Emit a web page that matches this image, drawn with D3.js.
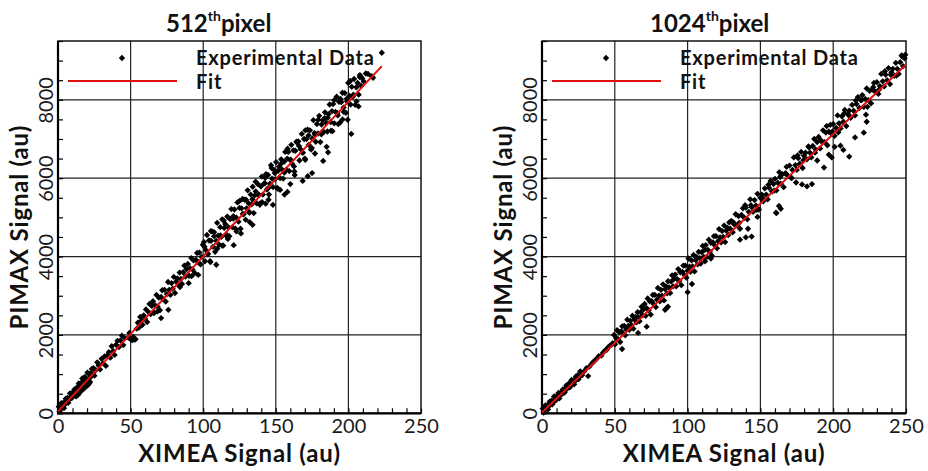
<!DOCTYPE html>
<html><head><meta charset="utf-8">
<script src="https://cdn.jsdelivr.net/npm/d3@7"></script>
<style>
body{margin:0;background:#fff;}
svg{display:block;}
.tick text{font-family:Lato,"Open Sans",sans-serif;}
</style></head>
<body><svg id="chart" width="928" height="471"></svg>
<script>
// ---------- data ----------
const xTickLabels = [0, 50, 100, 150, 200, 250];
const yTickLabels = [0, 2000, 4000, 6000, 8000];
const panelTitles = ["512", "1024"];
const legendLabels = ["Experimental Data", "Fit"];

// XIMEA signal (x) vs PIMAX signal (y), 512th pixel
const pixel512 = [
[0.5,170],[1.1,50],[1.7,140],[2.3,260],[2.9,150],[3.5,260],[4.1,130],[4.7,290],[5.3,370],[5.9,280],[6.5,390],[7.1,270],[7.7,370],[8.3,510],[8.9,430],[9.5,390],[10.1,530],[10.7,480],[11.3,610],[11.9,450],
[12.5,610],[13.1,660],[13.7,550],[14.3,760],[14.9,670],[15.5,590],[16.1,780],[16.7,890],[17.3,720],[17.9,840],[18.5,930],[19.1,740],[19.7,860],[20.3,1040],[20.9,850],[21.5,1000],[22.1,800],[22.7,1020],[23.3,1130],[23.9,990],[24.5,1150],[25.1,960],
[1.5,90],[2.6,150],[3.8,210],[4.9,230],[6.0,300],[7.3,350],[8.6,380],[9.9,450],[11.0,470],[12.2,540],[13.4,560],[14.6,620],[15.8,660],[17.0,700],[18.2,780],[19.4,800],[20.6,850],[21.8,900],[23.0,960],[24.2,1000],
[12.5,430],[14.8,520],[16.5,590],[18.3,650],[20.5,720],[21.5,760],[13.8,470],[17.2,610],[19.6,690],
[26.0,1100],[27.0,1300],[28.0,1220],[29.0,1120],[30.0,1390],[31.0,1280],[32.0,1450],[33.0,1210],[34.0,1480],[35.0,1560],[36.0,1420],[37.0,1710],[38.0,1590],[39.0,1490],[40.0,1750],[41.0,1850],[42.0,1690],[43.0,1860],[44.0,1980],[45.0,1740],[46.0,1920],
[48.5,1930],[49.2,2050],[49.8,1900],[50.5,1880],[51.2,1870],[51.9,1950],[52.6,1880],[53.4,1890],[54.2,2160],[55.0,2310],[55.8,2190],[56.6,2460],[57.4,2360],[58.2,2260],[59.0,2500],[59.8,2420],[60.6,2650],[61.4,2330],[62.2,2590],[63.0,2790],[63.8,2530],[64.6,2740],
[65.4,2860],[66.2,2560],[67.0,2750],[67.8,3020],[68.6,2720],[69.4,2950],[70.2,2630],[71.0,2970],[71.8,3140],[72.6,2900],[73.4,3150],[74.2,2850],[75.0,3040],[75.8,3350],[76.6,3150],[77.4,3020],[78.2,3320],[79.0,3180],[79.8,3480],[80.6,3070],[81.4,3360],[82.2,3440],[83.0,3270],[83.8,3590],[84.6,3430],[85.4,3300],[86.2,3600],[87.0,3770],[87.8,3490],[88.6,3680],[89.4,3810],[90.2,3510],[91.0,3700],[91.8,3960],[92.6,3670],[93.4,3900],[94.2,3580],[95.0,3920],[95.8,4090],[96.6,3850],[97.4,4100],[98.2,3800],[99.0,3990],[99.8,4300],
[66,2570],[68.5,2600],[71,2430],[76,2640],[84,3220],[90,3320],[96.6,3530],[92,3500],
[100.5,4370],[101.2,3880],[101.9,4160],[102.6,4550],[103.3,4060],[104.0,4410],[104.7,3880],[105.4,4400],[106.1,4640],[106.8,4250],[107.5,4620],[108.2,4120],[108.9,4400],[109.6,4860],[110.3,4530],[111.0,4300],[111.7,4750],[112.4,4500],[113.1,4950],[113.8,4280],[114.5,4730],[115.2,4830],[115.9,4530],[116.6,5020],[117.3,4750],[118.0,4520],[118.7,4960],[119.4,5210],[120.1,4750],[120.8,5030],[121.5,5200],[122.2,4710],[122.9,4990],[123.6,5380],[124.3,4890],[125.0,5240],[125.7,4710],[126.4,5230],[127.1,5470],[127.8,5080],[128.5,5450],[129.2,4940],[129.9,5230],[130.6,5690],[131.3,5360],[132.0,5130],[132.7,5580],[133.4,5330],[134.1,5780],[134.8,5110],[135.5,5560],[136.2,5660],[136.9,5360],[137.6,5850],[138.3,5580],[139.0,5350],[139.7,5790],[140.4,6040],[141.1,5580],[141.8,5860],
[142.5,5870],[143.2,6100],[143.9,5710],[144.6,6080],[145.3,5580],[146.0,5860],[146.7,6330],[147.4,5990],[148.1,5770],[148.8,6210],[149.5,5970],[150.2,6410],[150.9,5750],[151.6,6190],[152.3,6300],[153.0,6000],[153.7,6480],[154.4,6220],[155.1,5990],[155.8,6420],[156.5,6670],[157.2,6220],[157.9,6500],[158.6,6670],[159.3,6180],[160.0,6460],[160.7,6850],[161.4,6360],[162.1,6710],[162.8,6170],[163.5,6700],[164.2,6930],
[100.9,4250],[103.1,4080],[105.3,4650],[107.5,4520],[109.7,4200],[111.9,4540],[114.1,4920],[116.3,4550],[118.5,4960],[120.7,4970],[122.9,4640],[125.1,5420],[127.3,5090],[129.5,5450],[131.7,5120],[133.9,5460],[136.1,5910],[138.3,5560],[140.5,5390],[142.7,6010],[144.9,5750],[147.1,6260],[149.3,6130],[151.5,5730],[153.7,6370],[155.9,6140],[158.1,6750],[160.3,6470],[162.5,6300],[164.7,6910],
[165.5,6940],[166.3,6450],[167.1,6740],[167.9,7130],[168.7,6650],[169.5,7000],[170.3,6470],[171.1,7000],[171.9,7240],[172.7,6850],[173.5,7220],[174.3,6730],[175.1,7010],[175.9,7480],[176.7,7150],[177.5,6930],[178.3,7380],[179.1,7140],[179.9,7590],[180.7,6920],[181.5,7370],[182.3,7480],[183.1,7180],[183.9,7680],[184.7,7410],[185.5,7190],[186.3,7630],[187.1,7880],[187.9,7430],[188.7,7710],[189.5,7890],[190.3,7400],[191.1,7690],[191.9,8080],[192.7,7600],[193.5,7950],[194.3,7420],[195.1,7940],[195.9,8180],[196.7,7800],[197.5,8170],[198.3,7670],[199.1,7960],[199.9,8430],[200.7,8100],[201.5,7880],[202.3,8330],[203.1,8080],[203.9,8530],[204.7,7870],[205.5,8320],[206.3,8430],[207.1,8130],[207.9,8630],[208.7,8360],[209.5,8550],[210.5,8470],[212.0,8670],[213.5,8660],[216.0,8600],[217.0,8560],[223.0,9200],
[166.0,6820],[168.2,6650],[170.4,7220],[172.6,7090],[174.8,6770],[177.0,7110],[179.2,7490],[181.4,7120],[183.6,7530],[185.8,7540],[188.0,7210],[190.2,7990],[192.4,7660],[194.6,8020],[196.8,7690],[199.0,8030],[201.2,8480],[203.4,8130],[205.6,7960],[207.8,8580],
[134,4810],[139,5320],[132,4880],[148,5320],[158,5650],[156,5580],[145,5450],[143,5350],[153,5700],[163,6080],[182.6,6440],[186,6660],[185,6800],[177,6630],[175,6130],[172,6050],[168.5,5930],[170,6500],[189,7200],[193,7380],[199.5,7490],[202,7130],[207,7830],[105,3860],[109,3790],[121,4290],[126,4590],[113,4280],[117,4450],[160,5850],[196,7500]
];

// XIMEA signal (x) vs PIMAX signal (y), 1024th pixel
const pixel1024 = [
[0.5,120],[1.1,20],[1.7,100],[2.3,200],[2.9,110],[3.5,200],[4.1,100],[4.7,230],[5.3,300],[5.9,230],[6.5,320],[7.1,230],[7.7,300],[8.3,430],[8.9,360],[9.5,330],[10.1,440],[10.7,400],[11.3,520],[11.9,380],[12.5,500],[13.1,540],[13.7,490],[14.3,610],[14.9,570],[15.5,530],[16.1,640],[16.7,710],[17.3,630],[17.9,710],[18.5,760],[19.1,660],[19.7,740],[20.3,850],[20.9,750],[21.5,840],[22.1,740],[22.7,870],[23.3,940],[23.9,870],[24.5,970],[25.1,870],[25.7,950],[26.3,1070],[26.9,1010],[27.5,970],
[1.5,60],[2.8,120],[4.0,160],[5.0,200],[6.2,240],[7.4,280],[8.6,320],[9.8,370],[11.0,410],[12.2,460],[13.4,500],[14.6,540],[15.8,590],[17.0,630],[18.2,670],[19.4,710],[20.6,760],[21.8,800],[23.0,840],[24.2,880],[25.4,930],[26.6,970],
[29.0,1070],[30.5,1150],[31.7,950],[32.5,1190],[34.0,1260],[35.0,1300],[36.2,1340],[37.5,1390],[39.0,1460],[40.7,1470],[42.0,1550],[43.2,1600],[44.5,1620],[45.3,1680],[46.5,1720],[47.8,1750],[48.6,1790],
[49.5,2000],[50.2,1760],[50.9,1920],[51.6,2120],[52.3,1890],[53.0,2070],[53.7,1820],[54.4,2090],[55.1,2220],[55.8,2040],[56.5,2230],[57.2,1990],[57.9,2140],[58.6,2390],[59.3,2230],[60.0,2130],[60.7,2360],[61.4,2250],[62.1,2490],[62.8,2160],[63.5,2400],[64.2,2460],[64.9,2320],[65.6,2580],[66.3,2450],[67.0,2350],[67.7,2580],[68.4,2720],[69.1,2500],[69.8,2650],
[55.0,1640],[66.0,2050],[71.9,2210],
[70.5,2790],[71.2,2490],[71.9,2680],[72.6,2930],[73.3,2630],[74.0,2860],[74.7,2520],[75.4,2860],[76.1,3020],[76.8,2780],[77.5,3020],[78.2,2710],[78.9,2900],[79.6,3200],[80.3,3000],[81.0,2860],[81.7,3150],[82.4,3000],[83.1,3290],[83.8,2880],[84.5,3170],[85.2,3240],[85.9,3060],[86.6,3370],[87.3,3210],[88.0,3070],[88.7,3360],[89.4,3520],[90.1,3240],[90.8,3430],[91.5,3540],[92.2,3240],[92.9,3420],[93.6,3680],[94.3,3380],[95.0,3600],[95.7,3270],[96.4,3610],[97.1,3770],[97.8,3530],[98.5,3770],[99.2,3460],[99.9,3640],
[100.6,3950],[101.3,3740],[102.0,3610],[102.7,3900],[103.4,3750],[104.1,4040],[104.8,3620],[105.5,3910],[106.2,3990],[106.9,3800],[107.6,4120],[108.3,3960],[109.0,3820],[109.7,4110],[110.4,4270],[111.1,3990],[111.8,4170],[112.5,4290],[113.2,3990],[113.9,4170],[114.6,4430],[115.3,4120],[116.0,4350],[116.7,4020],[117.4,4360],[118.1,4520],[118.8,4280],[119.5,4520],[120.2,4210],[120.9,4390],[121.6,4700],[122.3,4490],[123.0,4360],[123.7,4650],[124.4,4500],[125.1,4790],[125.8,4370],[126.5,4660],[127.2,4740],[127.9,4550],[128.6,4870],[129.3,4710],
[84.5,2640],[86.5,2720],[85.5,2680],[100,3090],[103,3300],[112,3880],[116,3950],
[130,4910],[131,4620],[132,4820],[133,5080],[134,4790],[135,5030],[136,4710],[137,5060],[138,5230],[139,4990],[140,5250],[141,4950],[142,5140],[143,5460],[144,5260],[145,5140],[146,5440],[147,5300],[148,5600],[149,5200],[150,5500],[151,5580],[152,5410],[153,5740],[154,5580],[155,5460],[156,5750],[157,5930],[158,5660],[159,5850],[160,5980],[161,5690],[162,5880],[163,6150],[164,5860],[165,6100],[166,5770],[167,6120],[168,6290],[169,6060],[170,6320],[171,6020],[172,6210],[173,6530],[174,6330],[175,6210],[176,6510],[177,6370],[178,6670],[179,6260],[180,6570],[181,6650],[182,6480],[183,6810],[184,6650],[185,6530],[186,6820],[187,7000],[188,6730],[189,6920],[190,7050],[191,6760],[192,6950],[193,7220],[194,6920],[195,7160],[196,6840],[197,7190],[198,7360],[199,7130],[200,7380],[201,7080],[202,7280],[203,7600],[204,7400],[205,7270],[206,7580],[207,7440],[208,7740],[209,7330],[210,7630],[211,7720],[212,7540],[213,7870],[214,7720],[215,7600],[216,7890],[217,8070],[218,7790],[219,7990],[220,8120],[221,7820],[222,8020],[223,8290],[224,7990],[225,8230],[226,7910],[227,8260],[228,8430],[229,8200],[230,8450],[231,8150],[232,8350],[233,8660],[234,8470],[235,8340],[236,8640],[237,8500],[238,8810],[239,8400],[240,8700],[241,8790],[242,8610],[243,8940],[244,8790],[245,8660],[246,8960],[247,9130],[248,8860],[249,9060],[249.5,9150],
[131.5,4870],[135.5,4860],[139.5,5310],[143.5,5310],[147.5,5190],[151.5,5500],[155.5,5830],[159.5,5680],[163.5,6030],[167.5,6120],[171.5,6000],[175.5,6580],[179.5,6460],[183.5,6780],[187.5,6650],[191.5,6950],[195.5,7330],[199.5,7190],[203.5,7170],[207.5,7650],[211.5,7580],[215.5,7980],[219.5,7990],[223.5,7820],[227.5,8320],[231.5,8260],[235.5,8730],[239.5,8640],[243.5,8620],[247.5,9100],
[136,4430],[140,4490],[141.5,4710],[144,4510],[148,5010],[160.7,5120],[162.8,5290],[161,5110],[164,5220],[174.5,5890],[178.6,5840],[182,5790],[185.4,5850],[193.7,6270],[197,6600],[199,6530],[201,6800],[211,6550],[215,7040],[221,7160],[223,7440],[222.5,7620],[207,6720],[205,6830],[189,6450]
];

// linear fits (endpoints)
const fit512 = [[0, 50], [223, 8860]];
const fit1024 = [[0, 20], [250, 8900]];

// ---------- drawing ----------
const svg = d3.select("#chart");
const BOLD = "Lato, 'Open Sans', sans-serif";
const panels = [
  {title: panelTitles[0], data: pixel512, fit: fit512, left: 58, right: 421},
  {title: panelTitles[1], data: pixel1024, fit: fit1024, left: 542, right: 906}
];
const plotTop = 41, plotBottom = 413.3;
const y = d3.scaleLinear().domain([0, 9500]).range([plotBottom, plotTop]);
const marker = d3.symbol().type(d3.symbolSquare).size(20);

panels.forEach(p => {
  const x = d3.scaleLinear().domain([0, 250]).range([p.left, p.right]);
  const g = svg.append("g");

  // gridlines
  g.append("g").selectAll("line").data([50, 100, 150, 200]).join("line")
    .attr("x1", d => x(d)).attr("x2", d => x(d)).attr("y1", plotTop).attr("y2", plotBottom)
    .attr("stroke", "#222").attr("stroke-width", 1.2);
  g.append("g").selectAll("line").data([2000, 4000, 6000, 8000]).join("line")
    .attr("x1", p.left).attr("x2", p.right).attr("y1", d => y(d)).attr("y2", d => y(d))
    .attr("stroke", "#222").attr("stroke-width", 1.2);

  // minor ticks (inward)
  const bx = g.append("g").attr("transform", `translate(0,${plotBottom})`)
    .call(d3.axisBottom(x).tickValues(d3.range(0, 251, 10)).tickSize(-5).tickFormat(""));
  bx.select(".domain").remove();
  bx.selectAll("line").attr("stroke", "#000").attr("stroke-width", 1.2);
  const ly = g.append("g").attr("transform", `translate(${p.left},0)`)
    .call(d3.axisLeft(y).tickValues(d3.range(0, 9501, 500)).tickSize(-5).tickFormat(""));
  ly.select(".domain").remove();
  ly.selectAll("line").attr("stroke", "#000").attr("stroke-width", 1.2);

  // frame
  g.append("rect").attr("x", p.left).attr("y", plotTop).attr("width", p.right - p.left).attr("height", plotBottom - plotTop)
    .attr("fill", "none").attr("stroke", "#111").attr("stroke-width", 1.5);
  g.append("line").attr("x1", p.left).attr("x2", p.left).attr("y1", plotTop).attr("y2", plotBottom + 1)
    .attr("stroke", "#000").attr("stroke-width", 2.2);
  g.append("line").attr("x1", p.left - 1).attr("x2", p.right).attr("y1", plotBottom).attr("y2", plotBottom)
    .attr("stroke", "#000").attr("stroke-width", 2.2);

  // tick labels
  const xl = g.append("g").attr("transform", `translate(0,${plotBottom})`)
    .call(d3.axisBottom(x).tickValues(xTickLabels).tickSize(0).tickPadding(5).tickFormat(d3.format("d")));
  xl.select(".domain").remove();
  xl.selectAll("text").attr("font-size", 20).attr("fill", "#1a1a1a").attr("dy", "0.71em");
  const yl = g.append("g").attr("transform", `translate(${p.left},0)`)
    .call(d3.axisLeft(y).tickValues(yTickLabels).tickSize(0).tickFormat(d3.format("d")));
  yl.select(".domain").remove();
  yl.selectAll("text").attr("font-size", 20).attr("fill", "#1a1a1a")
    .attr("text-anchor", "middle").attr("x", null).attr("dy", null)
    .attr("transform", "translate(-5,0) rotate(-90)").attr("y", 0);

  // data
  g.append("g").selectAll("path").data(p.data).join("path")
    .attr("d", marker)
    .attr("transform", d => `translate(${x(d[0])},${y(d[1])}) rotate(45)`)
    .attr("fill", "#000");

  // fit line
  g.append("path").datum(p.fit)
    .attr("d", d3.line().x(d => x(d[0])).y(d => y(d[1])))
    .attr("stroke", "#e01010").attr("stroke-width", 2).attr("fill", "none");

  // legend
  g.append("path").attr("d", marker).attr("transform", `translate(${p.left + 64},58) rotate(45)`).attr("fill", "#000");
  g.append("line").attr("x1", p.left + 10).attr("x2", p.left + 119).attr("y1", 81).attr("y2", 81)
    .attr("stroke", "#e01010").attr("stroke-width", 2);
  g.append("text").attr("x", p.left + 138).attr("y", 65).text(legendLabels[0])
    .attr("font-family", BOLD).attr("font-weight", "bold").attr("font-size", 20)
    .attr("letter-spacing", 0.8).attr("fill", "#111");
  g.append("text").attr("x", p.left + 138).attr("y", 89).text(legendLabels[1])
    .attr("font-family", BOLD).attr("font-weight", "bold").attr("font-size", 20)
    .attr("letter-spacing", 0.8).attr("fill", "#111");

  // title
  const t = g.append("text").attr("x", p.left + 108).attr("y", 32)
    .attr("font-family", BOLD).attr("font-weight", "bold").attr("font-size", 24).attr("fill", "#111");
  t.append("tspan").text(p.title);
  t.append("tspan").text("th").attr("font-size", 14).attr("dy", -11);
  t.append("tspan").text("pixel").attr("dy", 11);

  // axis titles
  g.append("text").attr("x", (p.left + p.right) / 2).attr("y", 462).attr("text-anchor", "middle")
    .attr("font-family", BOLD).attr("font-weight", "bold").attr("font-size", 24)
    .attr("letter-spacing", 0.8).attr("fill", "#111")
    .text("XIMEA Signal (au)");
  g.append("text").attr("transform", `translate(${p.left - 30},${(plotTop + plotBottom) / 2}) rotate(-90)`)
    .attr("text-anchor", "middle")
    .attr("font-family", BOLD).attr("font-weight", "bold").attr("font-size", 24)
    .attr("letter-spacing", 0.8).attr("fill", "#111")
    .text("PIMAX Signal (au)");
});
</script></body></html>
